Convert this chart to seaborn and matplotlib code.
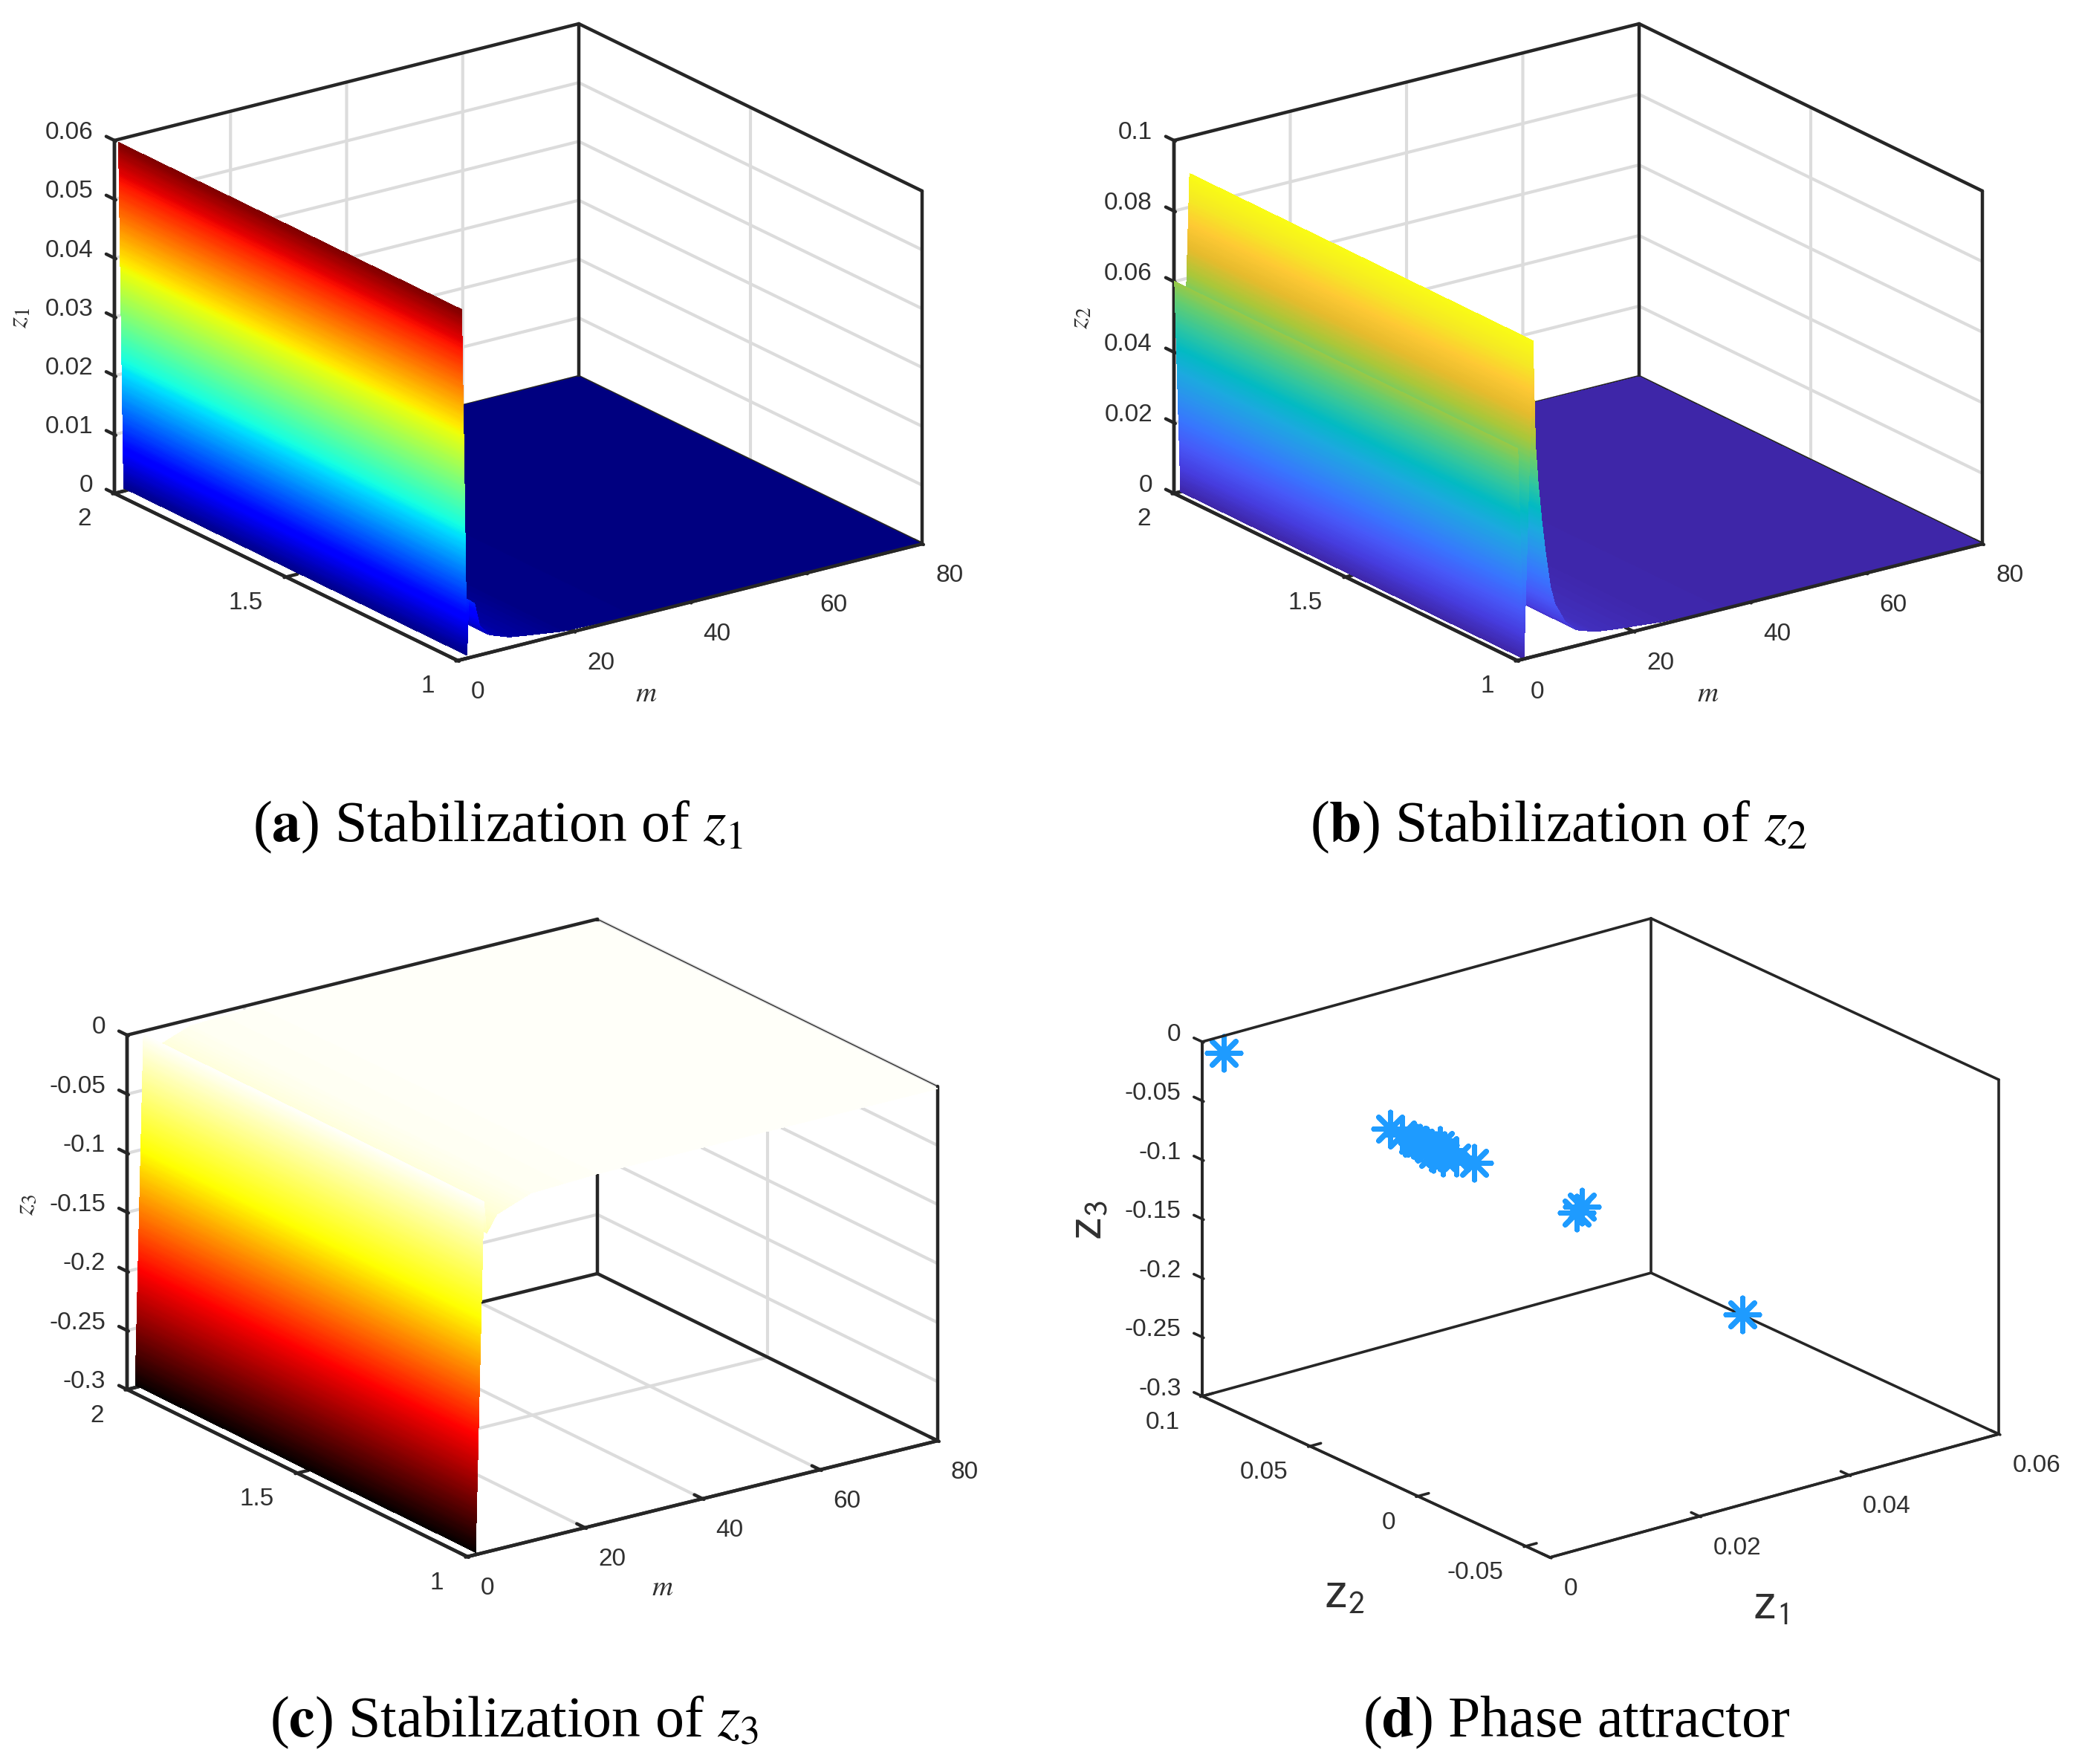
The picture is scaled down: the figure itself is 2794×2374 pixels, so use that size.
import numpy as np
import seaborn as sns
import matplotlib

matplotlib.use("Agg")
import matplotlib.pyplot as plt
from mpl_toolkits.mplot3d import proj3d

# values; every surface is flat along the y axis
m_z1 = [0.7, 1.6, 1.9, 2.9, 3.8, 5.5, 8.9, 11.9, 18, 30, 80]
z1_vals = [0.0595, 0.0005, 0.0098, 0.009, 0.005, 0.003, 0.0018, 0.00135, 0.0005, 0.0002, 0.0]

m_z2 = [0.1, 1.15, 2.7, 2.95, 3.15, 3.6, 4.2, 4.85, 5.7, 6.5, 8.26, 10.3, 13.4, 16.7, 25, 35, 80]
z2_vals = [0.06, 0.0, 0.0895, 0.072, 0.0595, 0.0488, 0.0381, 0.0287, 0.0185, 0.0133, 0.0076,
           0.0044, 0.0027, 0.002, 0.0007, 0.0003, 0.0]

m_z3 = [1.4, 2.8, 3.3, 5.0, 10.8, 22, 80]
z3_vals = [-0.298, -0.003, -0.03, -0.0163, -0.0055, -0.003, -0.002]

# phase attractor points
phase_z1 = [0.0595, 0.0, 0.0098, 0.009, 0.0, 0.0, 0.0, 0.0, 0.0005, 0.0, 0.001, 0.0015,
            0.002, 0.002, 0.001, 0.002, 0.002, 0.003, 0.0035]
phase_z2 = [0.056, 0.09, -0.042, -0.0423, 0.0128, 0.0073, 0.0021, -0.001, -0.0023, 0.0006,
            -0.002, -0.0028, -0.0032, -0.0053, -0.0036, -0.0047, -0.0032, -0.0074, -0.014]
phase_z3 = [-0.297, -0.001, -0.0365, -0.0396, 0.0, 0.0, 0.0, 0.0, -0.0014, -0.0015, -0.0057,
            -0.0073, -0.01, -0.006, -0.0091, -0.0127, -0.0036, -0.0122, -0.012]

m_ticks = [0, 20, 40, 60, 80]
y_ticks = [1, 1.5, 2]
z1_ticks = [0, 0.01, 0.02, 0.03, 0.04, 0.05, 0.06]
z1_labels = ["0", "0.01", "0.02", "0.03", "0.04", "0.05", "0.06"]
z2_ticks = [0, 0.02, 0.04, 0.06, 0.08, 0.1]
z2_labels = ["0", "0.02", "0.04", "0.06", "0.08", "0.1"]
z3_ticks = [-0.3, -0.25, -0.2, -0.15, -0.1, -0.05, 0]
z3_labels = ["-0.3", "-0.25", "-0.2", "-0.15", "-0.1", "-0.05", "0"]
phase_x_ticks = [0, 0.02, 0.04, 0.06]
phase_x_labels = ["0", "0.02", "0.04", "0.06"]
phase_y_ticks = [-0.05, 0, 0.05, 0.1]
phase_y_labels = ["-0.05", "0", "0.05", "0.1"]

parula_stops = ["#3E26A8", "#463CDE", "#4758F8", "#3875FE", "#2B91EF", "#1CA9DF", "#02BAC3",
                "#31C69F", "#64CD6F", "#ABC739", "#E6BB2D", "#FEC934", "#F5E924", "#F9FB15"]

DARK = "#262626"
FIG_W, FIG_H = 2794, 2374

# box corners in pixels: front, right, left, left top
box_a = [(616, 889), (1241, 732), (154, 664), (154, 189)]
box_b = [(2042, 889), (2668, 732), (1580, 664), (1580, 189)]
box_c = [(629, 2095), (1262, 1939), (171, 1870), (171, 1393)]
box_d = [(2086, 2096), (2690, 1930), (1618, 1879), (1618, 1402)]

sns.set_theme(style="white", rc={"grid.color": "#dcdcdc", "grid.linewidth": 3.0,
                                 "mathtext.fontset": "stix"})
plt.rcParams["font.family"] = ["Liberation Sans", "DejaVu Sans"]


def view_from_box(box):
    front, right, left, top = [np.array(p, dtype=float) for p in box]
    xv, yv = right - front, left - front
    zh = left[1] - top[1]
    sin_el = np.sqrt(abs((xv[1] / xv[0]) * (yv[1] / yv[0])))
    tan_az = abs(yv[1] / yv[0]) / sin_el
    phi = np.degrees(np.arctan(tan_az))
    el = np.degrees(np.arcsin(sin_el))
    a = xv[0] / np.sin(np.radians(phi))
    b = -yv[0] / np.cos(np.radians(phi))
    c = zh / np.cos(np.radians(el))
    return el, 180 + phi, (a, b, c)


def make_axes(fig, box, xlim, ylim, zlim):
    side = 1500
    ax = fig.add_axes([0, 0, side / FIG_W, side / FIG_H], projection="3d", computed_zorder=True)
    el, az, aspect = view_from_box(box)
    ax.set_proj_type("ortho")
    ax.view_init(elev=el, azim=az)
    ax.set_xlim(*xlim, view_margin=0)
    ax.set_ylim(*ylim, view_margin=0)
    ax.set_zlim(*zlim, view_margin=0)
    ax.set_box_aspect(aspect, zoom=1.0)
    ax.patch.set_alpha(0)

    # scale and move the axes so that the box sits on its corners
    fig.canvas.draw()
    front, right = np.array(box[0], float), np.array(box[1], float)

    def corner(x, y, z):
        px, py, _ = proj3d.proj_transform(x, y, z, ax.get_proj())
        return np.array(ax.transData.transform((px, py)))

    f0 = corner(xlim[0], ylim[0], zlim[0])
    r0 = corner(xlim[1], ylim[0], zlim[0])
    zoom = (right[0] - front[0]) / (r0[0] - f0[0])
    ax.set_box_aspect(aspect, zoom=zoom)
    fig.canvas.draw()
    f1 = corner(xlim[0], ylim[0], zlim[0])
    target = np.array([front[0], FIG_H - front[1]])
    dx, dy = target - f1
    ax.set_position([dx / FIG_W, dy / FIG_H, side / FIG_W, side / FIG_H])
    return ax


def style_axes(ax, line_w=3.2, grid=True):
    for axis in (ax.xaxis, ax.yaxis, ax.zaxis):
        axis.set_pane_color((1, 1, 1, 1))
        axis.pane.set_edgecolor((1, 1, 1, 0))
        axis.line.set_color(DARK)
        axis.line.set_linewidth(line_w)
        tick_info = axis._axinfo["tick"]
        tick_info["inward_factor"] = 0.05
        tick_info["outward_factor"] = 0.3
        tick_info["linewidth"] = {True: line_w, False: line_w}
        tick_info["color"] = DARK
    # z ticks point along the y axis here, not along x
    ax.zaxis._get_tickdir = lambda position: 1
    ax.grid(grid)
    ax.tick_params(axis="both", labelsize=24, labelcolor="#303030", color=DARK)
    ax.tick_params(axis="x", pad=14)
    ax.tick_params(axis="y", pad=20)
    ax.tick_params(axis="z", pad=7)


def draw_box(ax, xlim, ylim, zlim, line_w=3.2, far_top_w=None):
    x0, x1 = xlim
    y0, y1 = ylim
    z0, z1 = zlim
    edges = [([x0, x1], [y1, y1], [z0, z0]), ([x0, x0], [y0, y1], [z0, z0]),
             ([x1, x1], [y0, y1], [z0, z0]), ([x0, x0], [y1, y1], [z0, z1]),
             ([x1, x1], [y1, y1], [z0, z1]), ([x1, x1], [y0, y0], [z0, z1])]
    for xs, ys, zs in edges:
        # under the surfaces, which start at zorder 1.5 with this theme
        ax.plot(xs, ys, zs, color=DARK, lw=line_w, zorder=1)
    # the far top edge can be thin where a surface nearly hides it
    ax.plot([x1, x1], [y0, y1], [z1, z1], color=DARK, lw=far_top_w or line_w, zorder=1000)
    # these two stay on top of any surface
    ax.plot([x0, x1], [y0, y0], [z0, z0], color=DARK, lw=line_w, zorder=1000)
    ax.plot([x0, x1], [y1, y1], [z1, z1], color=DARK, lw=line_w, zorder=1000)


def align_tick_labels(ax):
    for lab in ax.get_xticklabels():
        lab.set_ha("left")
    for lab in ax.get_yticklabels():
        lab.set_ha("right")
        lab.set_va("center_baseline")
    for lab in ax.get_zticklabels():
        lab.set_ha("right")
        lab.set_va("baseline")


def strips(m, z, z_range):
    # the reference has interpolated shading: split each read segment into thin
    # facets only so the colour can run smoothly along it
    step = (z_range[1] - z_range[0]) / 300
    ms, zs = [m[0]], [z[0]]
    for i in range(len(m) - 1):
        n = max(1, int(abs(z[i + 1] - z[i]) / step))
        ms.extend(np.linspace(m[i], m[i + 1], n + 1)[1:])
        zs.extend(np.linspace(z[i], z[i + 1], n + 1)[1:])
    return np.array(ms), np.array(zs)


def draw_surface(ax, m, z, y_lim, cmap, z_range):
    ms, zs = strips(m, z, z_range)
    M = np.column_stack([ms, ms])
    Y = np.column_stack([np.full_like(ms, y_lim[0]), np.full_like(ms, y_lim[1])])
    Z = np.column_stack([zs, zs])
    mids = np.append((zs[:-1] + zs[1:]) / 2, zs[-1])
    colors = cmap((mids - z_range[0]) / (z_range[1] - z_range[0]))
    colors = np.repeat(colors[:, None, :], 2, axis=1)
    ax.plot_surface(M, Y, Z, facecolors=colors, rstride=1, cstride=1, shade=False,
                    linewidth=0, antialiased=False)


jet = matplotlib.colormaps["jet"]
parula = sns.blend_palette(parula_stops, as_cmap=True)
hot = sns.blend_palette(["#000000", "#ff0000", "#ffff00", "#ffffff"], as_cmap=True)

fig = plt.figure(figsize=(FIG_W / 100, FIG_H / 100), dpi=100, facecolor="white")

panels = [
    (box_a, m_z1, z1_vals, jet, (0, 0.0595), (0, 0.06), z1_ticks, z1_labels, None),
    (box_b, m_z2, z2_vals, parula, (0, 0.0895), (0, 0.1), z2_ticks, z2_labels, None),
    (box_c, m_z3, z3_vals, hot, (-0.3, 0), (-0.3, 0), z3_ticks, z3_labels, 0.9),
]
for box, m, vals, cmap, crange, zlim, zticks, zlabels, far_w in panels:
    ax = make_axes(fig, box, (0, 80), (1, 2), zlim)
    style_axes(ax)
    draw_box(ax, (0, 80), (1, 2), zlim, far_top_w=far_w)
    draw_surface(ax, m, vals, (1, 2), cmap, crange)
    ax.set_xticks(m_ticks)
    ax.set_xticklabels([str(t) for t in m_ticks])
    ax.set_yticks(y_ticks)
    ax.set_yticklabels(["1", "1.5", "2"])
    ax.set_zticks(zticks)
    ax.set_zticklabels(zlabels)
    align_tick_labels(ax)

ax = make_axes(fig, box_d, (0, 0.06), (-0.0612, 0.1), (-0.3, 0))
style_axes(ax, line_w=2.6, grid=False)
draw_box(ax, (0, 0.06), (-0.0612, 0.1), (-0.3, 0), line_w=2.6)
ax.scatter(phase_z1, phase_z2, phase_z3, marker=(8, 2, 0), s=1050, color="#1E9BFF",
           linewidths=5, depthshade=False, clip_on=False)
ax.set_xticks(phase_x_ticks)
ax.set_xticklabels(phase_x_labels)
ax.set_yticks(phase_y_ticks)
ax.set_yticklabels(phase_y_labels)
ax.set_zticks(z3_ticks)
ax.set_zticklabels(z3_labels)
align_tick_labels(ax)

# axis names
name_kw = dict(ha="center", va="center", color="#303030")
serif = ["Liberation Serif", "DejaVu Serif"]
for x, y, s in [(870, 934, "$m$"), (2299, 934, "$m$"), (892, 2137, "$m$")]:
    fig.text(x / FIG_W, 1 - y / FIG_H, s, fontsize=28, **name_kw)
for x, y, s in [(26, 428, "$z_1$"), (1454, 428, "$z_2$"), (34, 1622, "$z_3$")]:
    fig.text(x / FIG_W, 1 - y / FIG_H, s, fontsize=28, rotation=90, **name_kw)
sans_names = [(1809, 2147, r"z$_{\mathsf{2}}$", 0), (2383, 2162, r"z$_{\mathsf{1}}$", 0),
              (1466, 1642, r"z$_{\mathsf{3}}$", 90)]
for x, y, s, rot in sans_names:
    fig.text(x / FIG_W, 1 - y / FIG_H, s, fontsize=45, rotation=rot,
             fontfamily="Liberation Sans", **name_kw)

# panel captions
captions = [(670, 1113, r"($\mathbf{a}$) Stabilization of $z_1$"),
            (2098, 1113, r"($\mathbf{b}$) Stabilization of $z_2$"),
            (692, 2318, r"($\mathbf{c}$) Stabilization of $z_3$"),
            (2122, 2318, r"($\mathbf{d}$) Phase attractor")]
for x, y, s in captions:
    fig.text(x / FIG_W, 1 - y / FIG_H, s, fontsize=56, ha="center", va="center",
             family=serif, color="black")

fig.savefig("out.png", dpi=100)
